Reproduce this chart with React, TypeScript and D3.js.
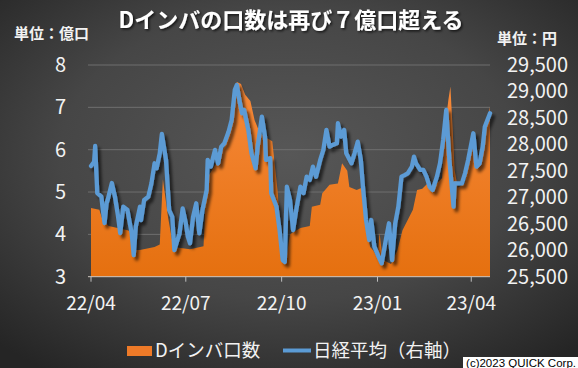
import React from 'react';
import * as d3 from 'd3';

// Dインバ口数 (億口)
const dinvaDates = [
  '2022-04-01', '2022-04-09', '2022-04-12', '2022-04-18', '2022-05-06', '2022-05-11',
  '2022-05-13', '2022-05-18', '2022-06-01', '2022-06-06', '2022-06-09', '2022-06-14',
  '2022-06-19', '2022-07-05', '2022-07-18', '2022-07-21', '2022-08-01', '2022-08-09',
  '2022-08-14', '2022-08-19', '2022-08-23', '2022-08-27', '2022-09-01', '2022-09-05',
  '2022-09-10', '2022-09-15', '2022-09-22', '2022-09-27', '2022-10-02', '2022-10-05',
  '2022-10-09', '2022-10-19', '2022-10-28', '2022-10-30', '2022-11-07', '2022-11-09',
  '2022-11-16', '2022-11-24', '2022-11-28', '2022-12-03', '2022-12-05', '2022-12-12',
  '2022-12-17', '2022-12-20', '2022-12-25', '2022-12-28', '2023-01-01', '2023-01-03',
  '2023-01-06', '2023-01-14', '2023-01-20', '2023-01-25', '2023-01-30', '2023-02-04',
  '2023-02-08', '2023-02-13', '2023-02-18', '2023-02-23', '2023-02-27', '2023-03-04',
  '2023-03-07', '2023-03-10', '2023-03-12', '2023-03-14', '2023-03-16', '2023-03-19',
  '2023-03-26', '2023-03-29', '2023-04-03', '2023-04-07', '2023-04-11', '2023-04-14',
  '2023-04-19',
];
const dinvaUnits = [
  4.62, 4.58, 4.35, 4.2, 4.1, 4.05,
  3.63, 3.63, 3.7, 3.76, 5.3, 4.4,
  3.7, 3.65, 3.72, 5.3, 5.76, 6.16,
  6.9, 7.6, 7.55, 7.3, 7.15, 6.7,
  6.4, 6.3, 6.2, 5.05, 3.5, 3.35,
  4.0, 4.15, 4.2, 4.65, 4.7, 4.97,
  5.17, 5.2, 5.68, 5.5, 5.12, 5.05,
  5.1, 4.34, 3.7, 3.62, 3.45, 4.03,
  3.4, 3.3, 3.62, 4.1, 4.34, 4.58,
  5.05, 5.08, 5.2, 5.0, 5.2, 5.33,
  6.55, 7.17, 7.49, 6.55, 5.52, 5.1,
  5.2, 5.6, 6.16, 5.6, 5.75, 6.3,
  7.01,
];

// 日経平均 (円, 右軸)
const nikkeiDates = [
  '2022-04-01', '2022-04-04', '2022-04-05', '2022-04-07', '2022-04-11', '2022-04-12',
  '2022-04-14', '2022-04-16', '2022-04-17', '2022-04-21', '2022-04-24', '2022-04-27',
  '2022-04-29', '2022-05-02', '2022-05-06', '2022-05-10', '2022-05-12', '2022-05-14',
  '2022-05-18', '2022-05-19', '2022-05-22', '2022-05-26', '2022-05-29', '2022-06-01',
  '2022-06-03', '2022-06-06', '2022-06-08', '2022-06-12', '2022-06-15', '2022-06-18',
  '2022-06-20', '2022-06-22', '2022-06-25', '2022-06-28', '2022-07-01', '2022-07-03',
  '2022-07-05', '2022-07-08', '2022-07-11', '2022-07-14', '2022-07-17', '2022-07-21',
  '2022-07-22', '2022-07-25', '2022-07-29', '2022-08-01', '2022-08-04', '2022-08-07',
  '2022-08-11', '2022-08-14', '2022-08-17', '2022-08-19', '2022-08-22', '2022-08-24',
  '2022-08-26', '2022-08-30', '2022-09-02', '2022-09-06', '2022-09-08', '2022-09-12',
  '2022-09-15', '2022-09-16', '2022-09-20', '2022-09-21', '2022-09-26', '2022-09-29',
  '2022-10-02', '2022-10-04', '2022-10-06', '2022-10-09', '2022-10-12', '2022-10-15',
  '2022-10-19', '2022-10-22', '2022-10-25', '2022-10-28', '2022-10-31', '2022-11-03',
  '2022-11-07', '2022-11-10', '2022-11-13', '2022-11-16', '2022-11-19', '2022-11-23',
  '2022-11-24', '2022-11-27', '2022-11-30', '2022-12-02', '2022-12-07', '2022-12-10',
  '2022-12-13', '2022-12-16', '2022-12-18', '2022-12-21', '2022-12-24', '2022-12-26',
  '2022-12-29', '2023-01-02', '2023-01-05', '2023-01-09', '2023-01-12', '2023-01-15',
  '2023-01-18', '2023-01-21', '2023-01-24', '2023-01-27', '2023-01-30', '2023-02-03',
  '2023-02-05', '2023-02-07', '2023-02-11', '2023-02-14', '2023-02-17', '2023-02-20',
  '2023-02-23', '2023-02-27', '2023-03-02', '2023-03-05', '2023-03-08', '2023-03-11',
  '2023-03-15', '2023-03-16', '2023-03-19', '2023-03-23', '2023-03-26', '2023-03-29',
  '2023-04-03', '2023-04-06', '2023-04-09', '2023-04-12', '2023-04-14', '2023-04-19',
];
const nikkeiClose = [
  27592, 27673, 27970, 27080, 27012, 26823,
  26515, 26893, 26950, 27271, 27012, 26634,
  26325, 26823, 26760, 26325, 25910, 26445,
  26823, 26570, 26950, 27010, 27265, 27643,
  27550, 27832, 28197, 27706, 26760, 26630,
  26004, 26130, 26320, 26792, 26510, 26256,
  26130, 26634, 26887, 26320, 26760, 27139,
  27706, 27580, 27895, 27640, 27957, 28020,
  28240, 28462, 29029, 29123, 28777, 28588,
  28650, 28273, 27832, 27549, 27957, 28524,
  28146, 27706, 27740, 27076, 26823, 26382,
  25815, 25780, 27201, 26950, 26382, 26760,
  27201, 27080, 27390, 27330, 27579, 27390,
  27706, 27895, 28273, 27957, 27990, 28020,
  28399, 28146, 28273, 27832, 27643, 27832,
  28051, 27706, 27201, 26571, 26194, 26571,
  26067, 25878, 25752, 26194, 26509, 25815,
  26509, 26823, 27390, 27420, 27454, 27580,
  27768, 27640, 27517, 27517, 27390, 27200,
  27139, 27390, 27643, 28084, 28651, 27706,
  26823, 27265, 27265, 27265, 27454, 27706,
  28210, 27579, 27640, 27957, 28335, 28588,
];

const leftTicks = [3, 4, 5, 6, 7, 8];
const rightTicks = [25500, 26000, 26500, 27000, 27500, 28000, 28500, 29000, 29500];
const xTickDates = ['2022-04-01', '2022-07-01', '2022-10-01', '2023-01-01', '2023-04-01'];

const W = 578;
const H = 368;
const plot = { left: 88, right: 490, top: 65, bottom: 276.7 };
const FONT = '"Noto Sans CJK JP", "Noto Sans", sans-serif';
const TXT = '#f2f2f2';

const parse = d3.timeParse('%Y-%m-%d');

export default function App() {
  const x = d3
    .scaleTime()
    .domain([parse('2022-04-01'), parse('2023-04-19')])
    .range([91, plot.right]);
  const yL = d3.scaleLinear().domain([3, 8]).range([plot.bottom, plot.top]);
  const yR = d3.scaleLinear().domain([25500, 29500]).range([plot.bottom, plot.top]);

  const dinva = dinvaDates.map((d, i) => ({ date: parse(d), v: dinvaUnits[i] }));
  const nikkei = nikkeiDates.map((d, i) => ({ date: parse(d), v: nikkeiClose[i] }));

  const area = d3
    .area<any>()
    .x((d) => x(d.date))
    .y0(yL(3))
    .y1((d) => yL(d.v));
  const line = d3
    .line<any>()
    .x((d) => x(d.date))
    .y((d) => yR(d.v));

  const fmt = d3.timeFormat('%y/%m');
  const comma = d3.format(',');

  return (
    <svg
      width={W}
      height={H}
      style={{ position: 'absolute', left: 0, top: 0, display: 'block' }}
    >
      <defs>
        <radialGradient id="bg" cx="50%" cy="42%" r="72%">
          <stop offset="0%" stopColor="#575757" />
          <stop offset="55%" stopColor="#464646" />
          <stop offset="100%" stopColor="#252525" />
        </radialGradient>
        <linearGradient id="orange" x1="0" y1="0" x2="0" y2="1">
          <stop offset="0%" stopColor="#f7893a" />
          <stop offset="100%" stopColor="#e5700f" />
        </linearGradient>
        <filter id="lineShadow" x="-5%" y="-10%" width="110%" height="130%">
          <feDropShadow dx="3" dy="3.5" stdDeviation="1.8" floodColor="#000" floodOpacity="0.6" />
        </filter>
        <filter id="titleShadow" x="-5%" y="-30%" width="110%" height="160%">
          <feDropShadow dx="1.5" dy="1.5" stdDeviation="1.2" floodColor="#000" floodOpacity="0.7" />
        </filter>
      </defs>

      <rect width={W} height={H} fill="url(#bg)" />

      {/* gridlines */}
      {leftTicks.slice(1).map((t) => (
        <line
          key={t}
          x1={plot.left}
          x2={plot.right}
          y1={yL(t)}
          y2={yL(t)}
          stroke="#6f6f6f"
          strokeWidth={1}
        />
      ))}

      <path d={area(dinva) || ''} fill="url(#orange)" />

      {/* x axis */}
      <line
        x1={plot.left}
        x2={plot.right}
        y1={plot.bottom}
        y2={plot.bottom}
        stroke="#d0c8c0"
        strokeWidth={1}
      />
      {xTickDates.map((d) => {
        const px = x(parse(d));
        return (
          <g key={d}>
            <line x1={px} x2={px} y1={plot.bottom} y2={plot.bottom + 5} stroke="#bfbfbf" />
            <text
              x={px}
              y={310}
              textAnchor="middle"
              fill={TXT}
              fontSize={19}
              fontFamily={FONT}
            >
              {fmt(parse(d))}
            </text>
          </g>
        );
      })}

      <path
        d={line(nikkei) || ''}
        fill="none"
        stroke="#5b9bd5"
        strokeWidth={4.3}
        strokeLinejoin="round"
        strokeLinecap="round"
        filter="url(#lineShadow)"
      />

      {/* left axis labels */}
      {leftTicks.map((t) => (
        <text
          key={t}
          x={66}
          y={yL(t)}
          dy="0.35em"
          textAnchor="end"
          fill={TXT}
          fontSize={20}
          fontFamily={FONT}
        >
          {t}
        </text>
      ))}

      {/* right axis labels */}
      {rightTicks.map((t) => (
        <text
          key={t}
          x={568}
          y={yR(t)}
          dy="0.35em"
          textAnchor="end"
          fill={TXT}
          fontSize={20}
          fontFamily={FONT}
        >
          {comma(t)}
        </text>
      ))}

      {/* title and units */}
      <text
        x={291}
        y={28}
        textAnchor="middle"
        fill="#ffffff"
        fontSize={22}
        fontWeight="bold"
        fontFamily={FONT}
        filter="url(#titleShadow)"
      >
        Dインバの口数は再び７億口超える
      </text>
      <text x={14} y={39} fill={TXT} fontSize={15} fontWeight="bold" fontFamily={FONT}>
        単位：億口
      </text>
      <text x={497} y={44} fill={TXT} fontSize={15} fontWeight="bold" fontFamily={FONT}>
        単位：円
      </text>

      {/* legend */}
      <rect x={127} y={346} width={25} height={10} fill="#ee7a28" />
      <text x={155} y={357} fill={TXT} fontSize={18.5} fontFamily={FONT}>
        Dインバ口数
      </text>
      <line x1={283} x2={311} y1={350.5} y2={350.5} stroke="#5b9bd5" strokeWidth={4} />
      <text x={313} y={357} fill={TXT} fontSize={18.5} fontFamily={FONT}>
        日経平均（右軸）
      </text>

      {/* credit */}
      <rect x={463} y={357} width={115} height={11} fill="#ffffff" />
      <text
        x={576}
        y={366.5}
        textAnchor="end"
        fill="#000"
        fontSize={11.5}
        fontFamily='"Liberation Sans", Arial, sans-serif'
      >
        (c)2023 QUICK Corp.
      </text>
    </svg>
  );
}
